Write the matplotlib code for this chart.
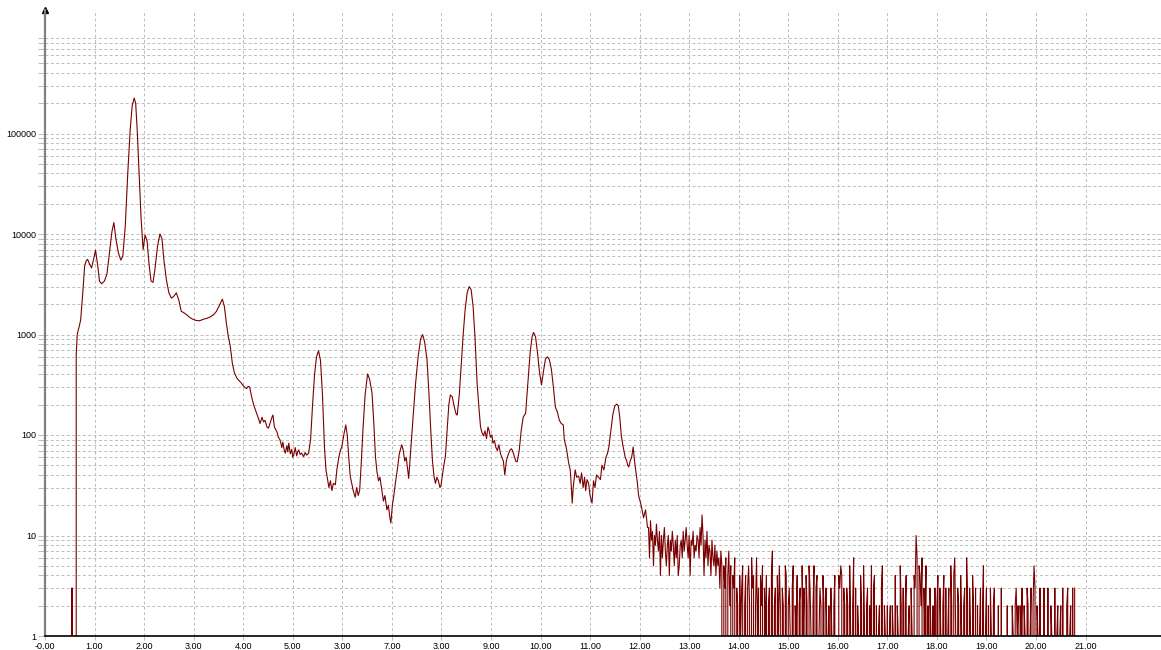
"""
Log-scale spectrum trace, redrawn from a screenshot.
"""

import numpy as np
import matplotlib
matplotlib.use('Agg')
import matplotlib.pyplot as plt
from matplotlib.ticker import FixedLocator, NullFormatter

# smooth part of the trace: (x, counts)
head_x = [0.53, 0.54, 0.55, 0.555, 0.62, 0.63, 0.65, 0.69, 0.72, 0.76, 0.80, 0.83, 0.86, 0.90, 0.94, 0.98,
          1.02, 1.06, 1.10, 1.14, 1.20, 1.25, 1.30, 1.35, 1.39, 1.43, 1.48, 1.53, 1.57, 1.62, 1.67, 1.72,
          1.76, 1.80, 1.83, 1.86, 1.90, 1.94, 1.98, 2.02, 2.06, 2.10, 2.14, 2.18, 2.22, 2.27, 2.32, 2.36,
          2.40, 2.45, 2.50, 2.55, 2.60, 2.65, 2.70, 2.75, 2.80, 2.86, 2.92, 2.98, 3.05, 3.12, 3.20, 3.27,
          3.34, 3.40, 3.46, 3.52, 3.58, 3.62, 3.66, 3.70, 3.74, 3.78, 3.82, 3.87, 3.91, 3.96, 4.00, 4.04,
          4.07, 4.10, 4.13, 4.17, 4.21, 4.26, 4.30, 4.34, 4.38, 4.41, 4.44, 4.48, 4.51, 4.55, 4.58, 4.60,
          4.63, 4.66, 4.68, 4.71, 4.74, 4.76, 4.78, 4.80, 4.83, 4.85, 4.88, 4.90, 4.92, 4.95, 4.98, 5.00,
          5.02, 5.05, 5.08, 5.10, 5.12, 5.15, 5.18, 5.22, 5.25, 5.28, 5.32, 5.36, 5.40, 5.44, 5.48, 5.52,
          5.56, 5.60, 5.64, 5.67, 5.70, 5.73, 5.76, 5.79, 5.82, 5.86, 5.89, 5.93, 5.96, 5.99, 6.03, 6.07,
          6.10, 6.13, 6.16, 6.19, 6.22, 6.26, 6.29, 6.32, 6.35, 6.38, 6.42, 6.46, 6.51, 6.55, 6.60, 6.64,
          6.67, 6.70, 6.73, 6.76, 6.80, 6.83, 6.86, 6.90, 6.93, 6.96, 6.98, 7.01, 7.04, 7.07, 7.11, 7.15,
          7.20, 7.23, 7.26, 7.29, 7.32, 7.34, 7.37, 7.40, 7.44, 7.48, 7.53, 7.58, 7.62, 7.66, 7.71, 7.75,
          7.79, 7.82, 7.85, 7.88, 7.91, 7.94, 7.97, 7.99, 8.02, 8.05, 8.08, 8.12, 8.15, 8.18, 8.22, 8.26,
          8.30, 8.32, 8.36, 8.40, 8.44, 8.48, 8.52, 8.56, 8.60, 8.64, 8.68, 8.72, 8.76, 8.79, 8.82, 8.85,
          8.88, 8.91, 8.94, 8.96, 8.99, 9.02, 9.04, 9.07, 9.10, 9.13, 9.16, 9.19, 9.22, 9.25, 9.28, 9.31,
          9.34, 9.38, 9.41, 9.43, 9.46, 9.50, 9.53, 9.57, 9.61, 9.65, 9.70, 9.74, 9.79, 9.83, 9.86, 9.90,
          9.94, 9.98, 10.02, 10.06, 10.10, 10.14, 10.18, 10.22, 10.26, 10.30, 10.34, 10.38, 10.42, 10.46,
          10.48, 10.52, 10.55, 10.57, 10.60, 10.62, 10.64, 10.66, 10.70, 10.73, 10.77, 10.80, 10.83, 10.86,
          10.89, 10.91, 10.94, 10.97, 11.00, 11.04, 11.07, 11.10, 11.13, 11.17, 11.21, 11.24, 11.28, 11.32,
          11.35, 11.38, 11.42, 11.46, 11.50, 11.54, 11.57, 11.60, 11.63, 11.66, 11.68, 11.71, 11.74, 11.76,
          11.78, 11.81, 11.84, 11.87, 11.89, 11.92, 11.95, 11.98, 12.02, 12.05, 12.08, 12.12, 12.16]
head_y = [0, 3, 3, 0, 0, 630, 1000, 1200, 1400, 2500, 4800, 5400, 5600, 5000, 4600, 5600,
          6900, 5000, 3400, 3200, 3400, 4000, 6500, 10500, 13000, 9000, 6500, 5500, 6000, 12000, 40000, 110000,
          190000, 225000, 200000, 110000, 40000, 14000, 7000, 9800, 8500, 5000, 3400, 3300, 4500, 7500, 10000, 9000,
          5500, 3500, 2600, 2300, 2400, 2600, 2200, 1700, 1650, 1570, 1480, 1420, 1380, 1370, 1420, 1450,
          1500, 1570, 1700, 1950, 2250, 1900, 1300, 950, 760, 520, 420, 370, 350, 330, 310, 295,
          290, 305, 300, 240, 200, 170, 150, 130, 150, 135, 140, 120, 117, 135, 150, 158,
          120, 112, 108, 95, 90, 83, 75, 85, 70, 66, 78, 68, 83, 65, 72, 60,
          63, 75, 62, 68, 71, 64, 66, 61, 67, 63, 66, 90, 200, 400, 600, 690,
          550, 250, 76, 45, 37, 30, 35, 28, 33, 32, 45, 60, 70, 76, 100, 126,
          100, 60, 39, 33, 28, 24, 30, 25, 28, 50, 120, 250, 405, 360, 262, 120,
          60, 43, 35, 38, 28, 22, 25, 18, 20, 15, 13.3, 20, 25, 33, 45, 65,
          80, 70, 55, 60, 45, 37, 60, 100, 180, 330, 600, 900, 1000, 850, 560, 250,
          100, 55, 39, 33, 38, 35, 30, 31, 40, 50, 61, 120, 200, 250, 240, 190,
          160, 158, 250, 500, 1000, 1800, 2600, 3000, 2800, 1900, 900, 330, 180, 120, 105, 98,
          110, 92, 120, 112, 95, 100, 83, 88, 75, 70, 80, 66, 60, 55, 40, 55,
          62, 70, 73, 71, 64, 55, 54, 70, 110, 150, 165, 300, 650, 950, 1050, 950,
          650, 420, 315, 430, 570, 600, 560, 450, 300, 190, 170, 140, 130, 126,
          90, 75, 60, 52, 45, 32, 21, 30, 45, 38, 39, 33, 42, 30,
          38, 28, 36, 33, 25, 21, 35, 30, 40, 38, 36, 50, 45, 60,
          65, 76, 110, 160, 195, 203, 195, 150, 100, 80, 71, 60, 55, 50,
          48, 55, 60, 76, 60, 45, 35, 25, 21, 18, 15, 18, 12]

# noisy tail: integer counts every 0.02 starting at 12.18
tail_start = 12.18
tail_step = 0.02
tail_counts = [
    12, 6, 14, 9, 11, 5, 10, 8, 13, 9, 7, 11, 4, 10, 6, 9, 12, 7, 5, 8, 10, 4, 9, 7, 11,
    8, 5, 9, 6, 10, 4, 5, 8, 9, 6, 11, 7, 9, 12, 8, 6, 10, 4, 9, 8, 11, 6, 8, 7, 10,
    9, 6, 12, 8, 16, 10, 4, 9, 6, 11, 5, 8, 7, 4, 9, 6, 5, 8, 4, 7, 5, 6, 3, 7, 5,
    0, 5, 3, 6, 0, 4, 7, 2, 5, 0, 4, 3, 6, 0, 3, 2, 0, 4, 1, 3, 5, 0, 2, 4, 0,
    3, 5, 2, 0, 6, 3, 4, 0, 2, 6, 1, 3, 0, 4, 2, 5, 0, 3, 1, 4, 0, 2, 3, 0, 4,
    7, 0, 2, 3, 0, 4, 1, 5, 2, 0, 3, 2, 0, 5, 4, 0, 2, 3, 1, 0, 3, 5, 0, 2, 1,
    4, 0, 2, 3, 0, 5, 1, 3, 0, 4, 2, 0, 5, 3, 1, 0, 2, 5, 0, 3, 4, 0, 1, 3, 2,
    0, 4, 2, 0, 3, 1, 0, 2, 0, 3, 1, 0, 2, 4, 0, 1, 0, 4, 3, 5, 4, 0, 3, 2, 0,
    3, 2, 0, 5, 1, 0, 2, 6, 0, 3, 0, 2, 1, 0, 4, 2, 0, 5, 1, 0, 2, 3, 0, 2, 1,
    5, 0, 3, 4, 0, 2, 0, 1, 2, 0, 3, 5, 0, 2, 1, 0, 2, 0, 1, 2, 0, 2, 1, 0, 4,
    0, 2, 1, 0, 5, 2, 0, 3, 0, 2, 4, 0, 1, 2, 0, 3, 1, 0, 4, 3, 10, 6, 0, 5, 4,
    2, 6, 0, 3, 1, 5, 0, 2, 0, 3, 1, 0, 2, 0, 3, 0, 2, 4, 0, 3, 1, 0, 2, 4, 0,
    3, 0, 1, 3, 0, 5, 2, 0, 4, 6, 1, 0, 3, 2, 0, 4, 1, 0, 2, 3, 0, 6, 2, 0, 3,
    1, 0, 4, 2, 0, 3, 0, 2, 0, 1, 3, 0, 2, 5, 0, 1, 3, 0, 2, 0, 3, 1, 0, 2, 3,
    0, 1, 0, 2, 0, 0, 3, 0, 0, 1, 0, 0, 2, 0, 0, 0, 0, 2, 1, 0, 2, 3, 1, 2, 0,
    2, 1, 3, 0, 2, 1, 0, 3, 2, 0, 1, 3, 0, 2, 5, 3, 0, 2, 1, 0, 3, 0, 1, 0, 3,
    0, 1, 0, 3, 0, 0, 2, 1, 0, 0, 3, 0, 1, 2, 0, 1, 2, 0, 3, 0, 1, 0, 2, 3, 0,
    1, 2, 0, 3, 0, 3,
]

x_ticks = list(range(0, 22))
x_labels = ['-0.00', '1.00', '2.00', '3.00', '4.00', '5.00', '3.00', '7.00', '3.00', '9.00', '10.00',
            '11.00', '12.00', '13.00', '14.00', '15.00', '16.00', '17.00', '18.00', '19.00', '20.00', '21.00']
y_major = [1, 10, 100, 1000, 10000, 100000]
y_labels = ['1', '10', '100', '1000', '10000', '100000']

tail_x = tail_start + tail_step * np.arange(len(tail_counts))
xs = np.concatenate([head_x, tail_x])
ys = np.concatenate([head_y, tail_counts]).astype(float)

plt.rcParams['font.family'] = ['Liberation Sans', 'DejaVu Sans']

fig = plt.figure(figsize=(11.61, 6.5), dpi=100)
W, H = 1161., 650.
ax = fig.add_axes([45 / W, 14 / H, (W - 45) / W, (636 - 10) / H])

ax.set_yscale('log', nonpositive='clip')
ax.plot(xs, ys, color='#7a0000', lw=0.8, antialiased=True)

ax.set_xlim(0, (W - 45) / 49.55)
ax.set_ylim(1, 10 ** ((636 - 10) / 100.5))

# grid: dashed light grey, every unit on x, 1..9 per decade on y
grid_kw = dict(color='#bcbcbc', lw=0.7, dashes=(3, 2.5), zorder=0)
for gx in x_ticks[1:]:
    ax.axvline(gx, **grid_kw)
minors = [m * 10 ** k for k in range(6) for m in range(1, 10) if m * 10 ** k > 1]
for gy in minors:
    ax.axhline(gy, **grid_kw)

ax.set_xticks(x_ticks)
ax.set_xticklabels(x_labels)
ax.yaxis.set_major_locator(FixedLocator(y_major))
ax.set_yticklabels(y_labels)
ax.yaxis.set_minor_locator(FixedLocator([m for m in minors if m not in y_major]))
ax.yaxis.set_minor_formatter(NullFormatter())

ax.tick_params(axis='x', length=3, width=0.7, color='#bcbcbc', labelsize=6.5, pad=1)
ax.tick_params(axis='y', which='both', length=5, width=0.7, color='#bcbcbc', labelsize=6.5, pad=1)

for side in ('top', 'right'):
    ax.spines[side].set_visible(False)
ax.spines['left'].set_color('#808080')
ax.spines['left'].set_linewidth(1.6)
ax.spines['bottom'].set_color('black')
ax.spines['bottom'].set_linewidth(1.2)
ax.plot([0], [1], transform=ax.transAxes, marker='^', color='black', ms=4, clip_on=False)

fig.savefig('out.png', dpi=100)
